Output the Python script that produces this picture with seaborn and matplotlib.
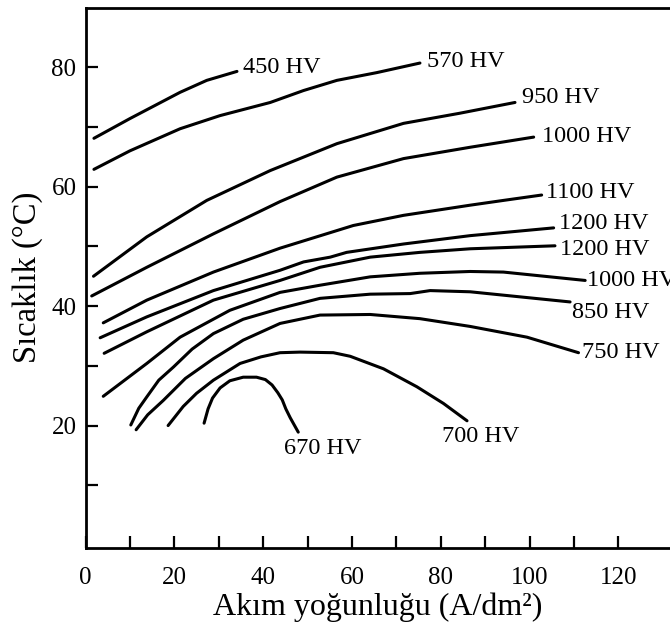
import matplotlib
matplotlib.use("Agg")
import matplotlib.pyplot as plt
import seaborn as sns
import numpy as np
import pandas as pd

# ---- data ----
hv450_x = [1.9, 10, 21.3, 27.3, 34.1]
hv450_y = [68.1, 71.4, 75.8, 77.8, 79.3]

hv570_x = [1.9, 10, 21.3, 30.3, 41.6, 49.1, 56.6, 65.6, 75.3]
hv570_y = [62.9, 66.0, 69.7, 71.9, 74.1, 76.1, 77.8, 79.1, 80.7]

hv950_x = [1.8, 13.8, 27.3, 41.6, 56.6, 71.6, 84.3, 96.7]
hv950_y = [45.0, 51.6, 57.7, 62.7, 67.2, 70.6, 72.3, 74.1]

hv1000a_x = [1.4, 13.8, 28.8, 43.8, 56.6, 71.6, 86.6, 100.9]
hv1000a_y = [41.7, 46.5, 52.1, 57.5, 61.6, 64.7, 66.6, 68.3]

hv1100_x = [4.0, 13.8, 28.8, 43.8, 60.3, 71.6, 86.6, 94.1, 102.7]
hv1100_y = [37.2, 41.0, 45.7, 49.7, 53.5, 55.2, 56.9, 57.7, 58.6]

hv1200a_x = [3.3, 13.8, 28.8, 43.8, 49.1, 55.1, 58.8, 71.6, 86.6, 105.4]
hv1200a_y = [34.7, 38.2, 42.6, 46.0, 47.4, 48.2, 49.0, 50.4, 51.8, 53.1]

hv1200b_x = [4.2, 13.8, 28.8, 43.8, 52.8, 64.1, 75.3, 86.6, 105.7]
hv1200b_y = [32.1, 35.7, 41.0, 44.3, 46.5, 48.2, 49.0, 49.6, 50.1]

hv1000b_x = [4.0, 13.8, 21.3, 32.5, 43.8, 52.8, 64.1, 75.3, 86.6, 94.1, 112.5]
hv1000b_y = [24.9, 30.4, 34.8, 39.3, 42.3, 43.5, 44.9, 45.5, 45.8, 45.7, 44.3]

hv850_x = [10.2, 12.0, 13.8, 16.5, 19.8, 24.0, 28.8, 35.5, 43.8, 52.8, 64.1, 73.1, 77.6, 86.6, 109.1]
hv850_y = [20.1, 22.9, 24.8, 27.6, 29.8, 32.8, 35.4, 37.8, 39.6, 41.3, 42.0, 42.1, 42.6, 42.4, 40.7]

hv750_x = [11.4, 14.0, 17.5, 22.5, 28.8, 35.5, 43.8, 52.8, 64.1, 75.3, 86.6, 99.4, 111.0]
hv750_y = [19.3, 21.8, 24.2, 27.9, 31.2, 34.3, 37.1, 38.5, 38.6, 37.9, 36.6, 34.8, 32.2]

hv700_x = [18.6, 22.0, 25.0, 28.8, 34.8, 39.5, 43.8, 48.3, 55.8, 59.6, 67.1, 74.6, 80.6, 85.9]
hv700_y = [20.0, 23.2, 25.4, 27.6, 30.4, 31.5, 32.2, 32.3, 32.2, 31.6, 29.5, 26.5, 23.7, 20.8]

hv670_x = [26.7, 27.6, 28.6, 30.3, 32.5, 35.5, 38.5, 40.5, 42.0, 43.3, 44.3, 45.1, 46.1, 47.9]
hv670_y = [20.4, 22.8, 24.6, 26.3, 27.5, 28.1, 28.1, 27.7, 26.8, 25.5, 24.3, 22.8, 21.3, 18.9]

curve_names = ["450 HV", "570 HV", "950 HV", "1000 HV", "1100 HV", "1200 HV",
               "1200 HV", "1000 HV", "850 HV", "750 HV", "700 HV", "670 HV"]
curve_xs = [hv450_x, hv570_x, hv950_x, hv1000a_x, hv1100_x, hv1200a_x,
            hv1200b_x, hv1000b_x, hv850_x, hv750_x, hv700_x, hv670_x]
curve_ys = [hv450_y, hv570_y, hv950_y, hv1000a_y, hv1100_y, hv1200a_y,
            hv1200b_y, hv1000b_y, hv850_y, hv750_y, hv700_y, hv670_y]

# label anchor points (data coords)
label_x = [35.4, 76.8, 98.2, 102.7, 103.7, 106.5, 106.9, 112.9, 109.5, 111.8, 80.2, 44.6]
label_y = [80.0, 80.9, 74.9, 68.4, 59.1, 53.8, 49.4, 44.3, 39.0, 32.3, 18.1, 16.2]

x_major = [0, 20, 40, 60, 80, 100, 120]
x_minor = [10, 30, 50, 70, 90, 110]
y_major = [20, 40, 60, 80]
y_minor = [10, 30, 50, 70]

# ---- plotting ----
sns.set_theme(style="white")
plt.rcParams["font.family"] = ["Liberation Serif", "DejaVu Serif"]

fig = plt.figure(figsize=(6.70, 6.27), dpi=100)
ax = fig.add_axes([85.5 / 670, (627 - 548) / 627, (670 - 85.5) / 670, (548 - 7.5) / 627])

for cx, cy in zip(curve_xs, curve_ys):
    df = pd.DataFrame({"x": cx, "y": cy})
    sns.lineplot(data=df, x="x", y="y", sort=False, estimator=None,
                 color="black", linewidth=2.2, ax=ax)

for name, lx, ly in zip(curve_names, label_x, label_y):
    ax.text(lx, ly, name, ha="left", va="center", fontsize=17.5, color="black",
            clip_on=False)

ax.set_xlim(0, 131.6)
ax.set_ylim(-0.5, 90)
ax.set_xticks(x_major)
ax.set_xticks(x_minor, minor=True)
ax.set_yticks(y_major)
ax.set_yticks(y_minor, minor=True)
ax.tick_params(axis="both", which="both", direction="in", length=8.5, width=1.6,
               color="black", labelsize=18, labelcolor="black")
ax.tick_params(axis="x", which="both", pad=14)
ax.tick_params(axis="y", which="both", pad=6.5)
ax.tick_params(axis="both", which="minor", labelbottom=False, labelleft=False)
ax.tick_params(bottom=True, left=True, which="both")

for side in ["left", "bottom", "top"]:
    ax.spines[side].set_visible(True)
    ax.spines[side].set_color("black")
    ax.spines[side].set_linewidth(2.0)
ax.spines["right"].set_visible(False)

ax.set_xlabel("Akım yoğunluğu (A/dm²)", fontsize=23, color="black", labelpad=2)
ax.set_ylabel("Sıcaklık (°C)", fontsize=23.5, color="black", labelpad=6)
ax.grid(False)

fig.savefig("out.png", dpi=100, facecolor="white")
